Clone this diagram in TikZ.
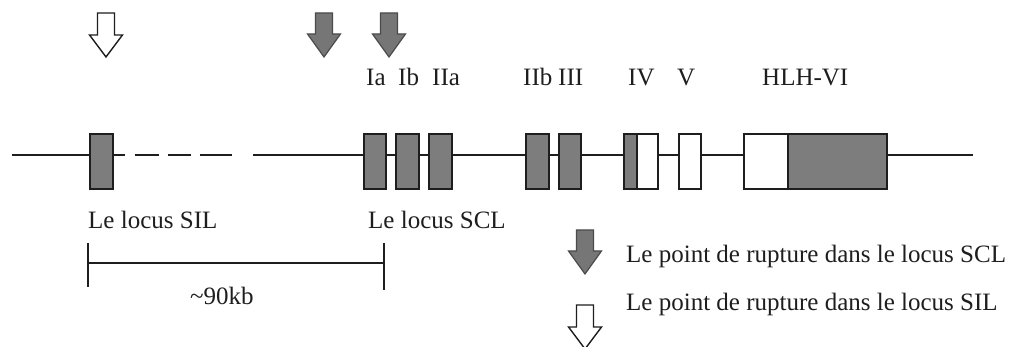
\documentclass[tikz,border=0pt]{standalone}
\usepackage{fontspec}
\setmainfont{Liberation Serif}
\definecolor{boxgray}{RGB}{125,125,125}
\definecolor{arrgray}{RGB}{118,118,118}
\definecolor{ink}{RGB}{30,30,30}
\tikzset{
  exon/.style={rectangle, draw=ink, line width=1.6pt, fill=boxgray, inner sep=0pt,
    minimum height=55pt, anchor=north west},
  wexon/.style={exon, fill=white},
  lbl/.style={inner sep=0pt, anchor=base west, text=ink},
  dna/.style={draw=ink, line width=1.5pt},
  bar/.style={draw=ink, line width=1.6pt},
  pics/grayarr/.style={code={
    \draw[draw=ink!80, line width=1.2pt, fill=arrgray, line join=miter]
      (-8.5,0) -- (8.5,0) -- (8.5,21) -- (16.5,21) -- (0,44) -- (-16.5,21) -- (-8.5,21) -- cycle;}},
  pics/openarr/.style={code={
    \draw[draw=ink, line width=1.4pt, fill=white, line join=miter]
      (-8.5,0) -- (8.5,0) -- (8.5,22) -- (16.5,22) -- (0,44) -- (-16.5,22) -- (-8.5,22) -- cycle;}}
}
\begin{document}
\begin{tikzpicture}[x=1pt, y=-1pt, font=\fontsize{25}{30}\selectfont]
\useasboundingbox (0,0) rectangle (1015,347);

% breakpoint arrows
\pic at (106,13) {openarr};
\pic at (324,13) {grayarr};
\pic at (389,13) {grayarr};

% top labels
\node[lbl] (lIa) at (366,86) {Ia};
\node[lbl] (lIb) at (398,86) {Ib};
\node[lbl] (lIIa) at (432,86) {IIa};
\node[lbl] (lIIb) at (523,86) {IIb};
\node[lbl] (lIII) at (558,86) {III};
\node[lbl] (lIV) at (628,86) {IV};
\node[lbl] (lV) at (677,86) {V};
\node[lbl] (lHLH) at (762,86) {HLH-VI};

% exons
\node[exon, minimum width=23pt] (sil) at (89,133) {};
\node[exon, minimum width=22pt] (ia) at (363,133) {};
\node[exon, minimum width=23pt] (ib) at (395,133) {};
\node[exon, minimum width=23pt] (iia) at (428,133) {};
\node[exon, minimum width=23pt] (iib) at (525,133) {};
\node[exon, minimum width=22pt] (iii) at (558,133) {};
\node[exon, minimum width=13pt] (ivg) at (623,133) {};
\node[wexon, minimum width=21pt] (ivw) at (636,133) {};
\node[wexon, minimum width=22pt] (v) at (678,133) {};
\node[wexon, minimum width=44pt] (hlhw) at (743,133) {};
\node[exon, minimum width=99pt] (hlhg) at (787,133) {};

% DNA line
\coordinate (L0) at (12,155);
\coordinate (Ld) at (232,155);
\coordinate (L1) at (253,155);
\coordinate (L2) at (973,155);
\draw[dna] (L0) -- (sil.west |- L0);
\draw[dna, dash pattern=on 11pt off 10pt on 24pt off 9pt on 23pt off 9pt on 34pt off 0pt]
  (sil.east |- L0) -- (Ld);
\draw[dna] (L1) -- (ia.west |- L0);
\draw[dna] (ia.east |- L0) -- (ib.west |- L0);
\draw[dna] (ib.east |- L0) -- (iia.west |- L0);
\draw[dna] (iia.east |- L0) -- (iib.west |- L0);
\draw[dna] (iib.east |- L0) -- (iii.west |- L0);
\draw[dna] (iii.east |- L0) -- (ivg.west |- L0);
\draw[dna] (ivw.east |- L0) -- (v.west |- L0);
\draw[dna] (v.east |- L0) -- (hlhw.west |- L0);
\draw[dna] (hlhg.east |- L0) -- (L2);

% locus labels
\node[lbl] (tsil) at (88,229) {Le locus SIL};
\node[lbl] (tscl) at (368,229) {Le locus SCL};

% scale bar
\coordinate (b1t) at (88,243);
\coordinate (b1b) at (88,287);
\coordinate (b2t) at (384,243);
\coordinate (b2b) at (384,290);
\coordinate (m1) at (88,263);
\coordinate (m2) at (384,263);
\draw[bar] (b1t) -- (b1b);
\draw[bar] (b2t) -- (b2b);
\draw[bar] (m1) -- (m2);
\node[lbl] (kb) at (190,305) {\textasciitilde 90kb};

% legend
\pic at (585,230) {grayarr};
\pic at (585,305) {openarr};
\node[lbl] (leg1) at (626,263) {Le point de rupture dans le locus SCL};
\node[lbl] (leg2) at (626,311) {Le point de rupture dans le locus SIL};
\end{tikzpicture}
\end{document}
